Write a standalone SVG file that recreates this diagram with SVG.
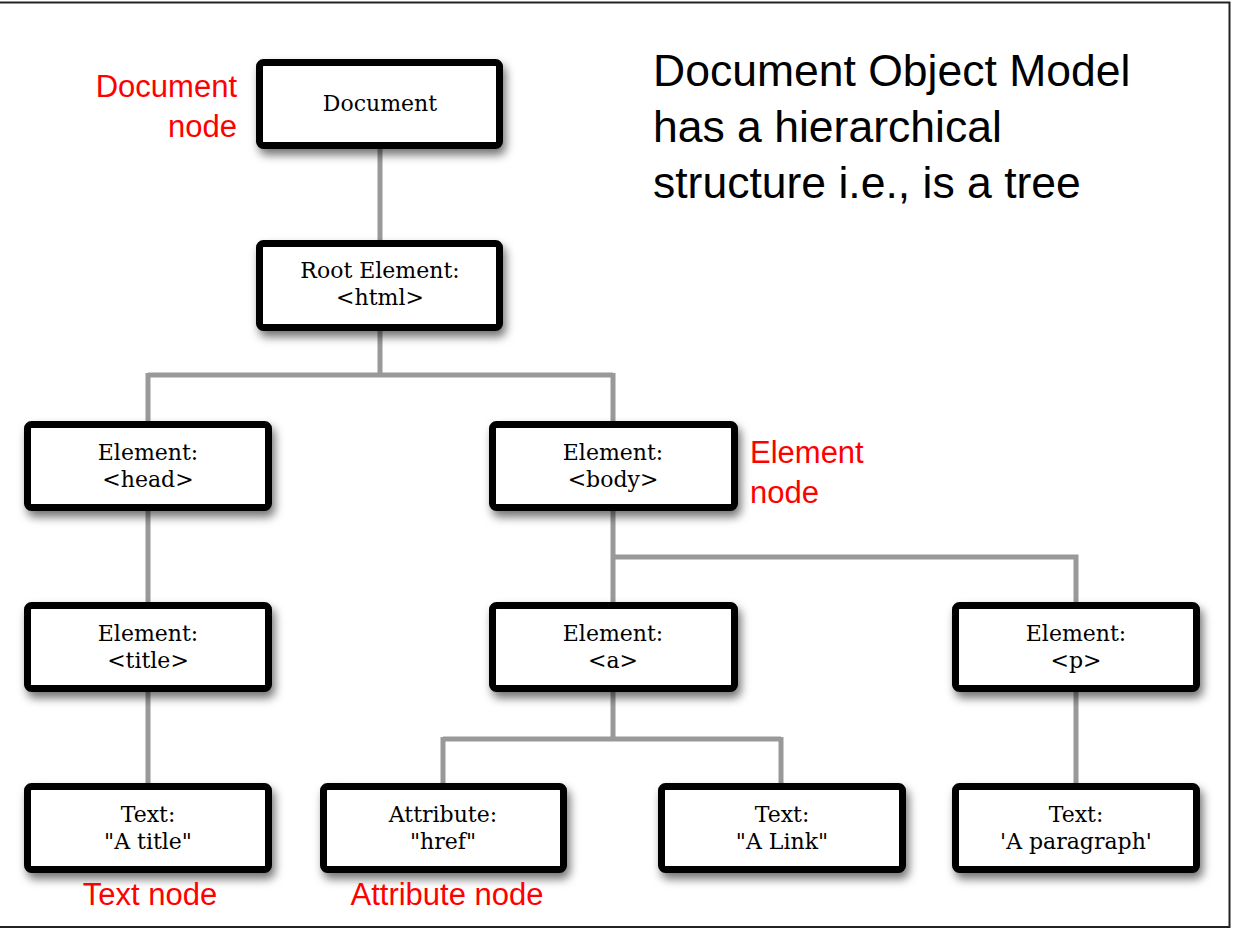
<svg xmlns="http://www.w3.org/2000/svg" width="1241" height="941" viewBox="0 0 1241 941">
<defs>
<filter id="sh" x="-10%" y="-20%" width="125%" height="150%">
<feDropShadow dx="3" dy="6" stdDeviation="5" flood-color="#000" flood-opacity="0.55"/>
</filter>
<style>
.box{fill:#fff;stroke:#000;stroke-width:7;filter:url(#sh)}
.nt{font-family:"DejaVu Serif","Liberation Serif",serif;font-size:22px;fill:#000;text-anchor:middle}
.red{font-family:"Liberation Sans",Arial,sans-serif;font-size:31px;fill:#ff0000}
.con{fill:none;stroke:#999;stroke-width:5}
.title{font-family:"Liberation Sans",Arial,sans-serif;font-size:44.5px;fill:#000}
</style>
</defs>
<rect width="1241" height="941" fill="#fff"/>
<path d="M0 2.5H1229.5V927H0" fill="none" stroke="#222" stroke-width="2"/>
<g id="connectors">
<path class="con" d="M380 149V240"/>
<path class="con" d="M380 331V375M148 375H613M148 373V421M613 373V421"/>
<path class="con" d="M148 511V602"/>
<path class="con" d="M148 692V783"/>
<path class="con" d="M613 511V602M613 557H1076V602"/>
<path class="con" d="M613 692V739M443 739H781M443 737V783M781 737V783"/>
<path class="con" d="M1076 692V783"/>
</g>
<g id="n-document"><rect class="box" x="259.5" y="62.5" width="240" height="83" rx="4"/><text class="nt" x="380" y="111">Document</text></g>
<g id="n-root"><rect class="box" x="259.5" y="243.5" width="240" height="84" rx="4"/><text class="nt" x="380" y="278">Root Element:</text><text class="nt" x="380" y="305">&lt;html&gt;</text></g>
<g id="n-head"><rect class="box" x="27.5" y="424.5" width="241" height="83" rx="4"/><text class="nt" x="148" y="460">Element:</text><text class="nt" x="148" y="487">&lt;head&gt;</text></g>
<g id="n-body"><rect class="box" x="492.5" y="424.5" width="242" height="83" rx="4"/><text class="nt" x="613" y="460">Element:</text><text class="nt" x="613" y="487">&lt;body&gt;</text></g>
<g id="n-title"><rect class="box" x="27.5" y="605.5" width="241" height="83" rx="4"/><text class="nt" x="148" y="641">Element:</text><text class="nt" x="148" y="668">&lt;title&gt;</text></g>
<g id="n-a"><rect class="box" x="492.5" y="605.5" width="242" height="83" rx="4"/><text class="nt" x="613" y="641">Element:</text><text class="nt" x="613" y="668">&lt;a&gt;</text></g>
<g id="n-p"><rect class="box" x="955.5" y="605.5" width="241" height="83" rx="4"/><text class="nt" x="1076" y="641">Element:</text><text class="nt" x="1076" y="668">&lt;p&gt;</text></g>
<g id="n-text-title"><rect class="box" x="27.5" y="786.5" width="241" height="83" rx="4"/><text class="nt" x="148" y="822">Text:</text><text class="nt" x="148" y="849">"A title"</text></g>
<g id="n-attr"><rect class="box" x="323.5" y="786.5" width="240" height="83" rx="4"/><text class="nt" x="443" y="822">Attribute:</text><text class="nt" x="443" y="849">"href"</text></g>
<g id="n-text-link"><rect class="box" x="661.5" y="786.5" width="241" height="83" rx="4"/><text class="nt" x="782" y="822">Text:</text><text class="nt" x="782" y="849">"A Link"</text></g>
<g id="n-text-para"><rect class="box" x="955.5" y="786.5" width="241" height="83" rx="4"/><text class="nt" x="1076" y="822">Text:</text><text class="nt" x="1076" y="849">'A paragraph'</text></g>
<g id="labels">
<text class="red" x="237" y="97" text-anchor="end">Document</text>
<text class="red" x="237" y="137" text-anchor="end">node</text>
<text class="red" x="750" y="463">Element</text>
<text class="red" x="750" y="503">node</text>
<text class="red" x="150" y="905" text-anchor="middle">Text node</text>
<text class="red" x="447" y="905" text-anchor="middle">Attribute node</text>
</g>
<g id="heading">
<text class="title" x="653" y="86">Document Object Model</text>
<text class="title" x="653" y="142">has a hierarchical</text>
<text class="title" x="653" y="198">structure i.e., is a tree</text>
</g>
</svg>
